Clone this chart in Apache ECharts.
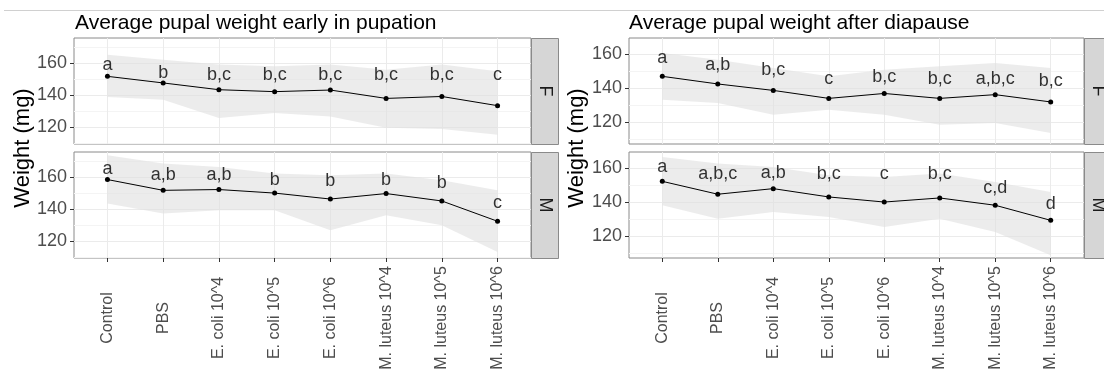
<!DOCTYPE html>
<html>
<head>
<meta charset="utf-8">
<script src="https://cdn.jsdelivr.net/npm/echarts@6/dist/echarts.min.js"></script>
<style>
html, body { margin: 0; padding: 0; background: #fff; }
#main { width: 1104px; height: 376px; }
</style>
</head>
<body>
<div id="main"></div>
<script>
var categories = ['Control', 'PBS', 'E. coli 10^4', 'E. coli 10^5', 'E. coli 10^6',
    'M. luteus 10^4', 'M. luteus 10^5', 'M. luteus 10^6'];
var yTicks = [120, 140, 160];
var yMinorTicks = [110, 130, 150, 170];

// early in pupation, females
var earlyF = [151.7, 147.6, 143.4, 142.2, 143.2, 138.0, 139.2, 133.5];
var earlyFHigh = [165.1, 162.0, 159.0, 157.9, 159.0, 155.8, 159.0, 154.8];
var earlyFLow = [138.9, 137.2, 125.8, 129.0, 126.8, 119.8, 119.0, 115.5];
var earlyFLetters = ['a', 'b', 'b,c', 'b,c', 'b,c', 'b,c', 'b,c', 'c'];
var earlyFLetterY = [158.5, 153.8, 152.3, 152.3, 152.3, 152.3, 152.3, 152.3];

// early in pupation, males
var earlyM = [158.4, 151.7, 152.2, 150.0, 146.3, 149.7, 145.1, 132.5];
var earlyMHigh = [173.5, 168.3, 166.2, 162.1, 161.0, 162.1, 157.9, 151.7];
var earlyMLow = [143.5, 137.3, 139.3, 139.3, 126.9, 136.2, 130.0, 113.4];
var earlyMLetters = ['a', 'a,b', 'a,b', 'b', 'b', 'b', 'b', 'c'];
var earlyMLetterY = [164.8, 161.2, 161.2, 157.9, 157.5, 157.9, 156.5, 144.1];

// after diapause, females
var diapF = [147.1, 142.6, 138.8, 134.1, 137.0, 134.1, 136.3, 132.0];
var diapFHigh = [160.9, 156.9, 152.0, 147.1, 151.0, 153.0, 155.0, 152.0];
var diapFLow = [133.3, 131.4, 124.5, 127.4, 124.5, 118.6, 119.6, 113.7];
var diapFLetters = ['a', 'a,b', 'b,c', 'c', 'b,c', 'b,c', 'a,b,c', 'b,c'];
var diapFLetterY = [158.1, 153.5, 150.6, 145.7, 146.7, 145.7, 145.7, 144.3];

// after diapause, males
var diapM = [152.4, 144.8, 148.1, 143.2, 140.2, 142.6, 138.3, 129.4];
var diapMHigh = [166.8, 162.9, 160.9, 156.0, 155.0, 157.0, 152.0, 146.1];
var diapMLow = [138.3, 130.4, 134.3, 131.4, 125.5, 130.4, 122.5, 108.8];
var diapMLetters = ['a', 'a,b,c', 'a,b', 'b,c', 'c', 'b,c', 'c,d', 'd'];
var diapMLetterY = [160.9, 156.9, 157.5, 156.5, 156.9, 156.9, 148.3, 138.9];

var font = 'Liberation Sans, Arial, Helvetica, sans-serif';
var bandColor = 'rgba(225,225,225,0.62)';

var panels = [
    {left: 74, top: 38, width: 457, height: 106, yMin: 109.7, yMax: 175.5, bottom: false,
        mean: earlyF, high: earlyFHigh, low: earlyFLow, letters: earlyFLetters, letterY: earlyFLetterY},
    {left: 74, top: 152, width: 457, height: 106, yMin: 109.7, yMax: 175.5, bottom: true,
        mean: earlyM, high: earlyMHigh, low: earlyMLow, letters: earlyMLetters, letterY: earlyMLetterY},
    {left: 629, top: 38, width: 455, height: 106, yMin: 107.2, yMax: 169.7, bottom: false,
        mean: diapF, high: diapFHigh, low: diapFLow, letters: diapFLetters, letterY: diapFLetterY},
    {left: 629, top: 152, width: 455, height: 106, yMin: 107.2, yMax: 169.7, bottom: true,
        mean: diapM, high: diapMHigh, low: diapMLow, letters: diapMLetters, letterY: diapMLetterY}
];

var xIdx = categories.map(function (c, i) { return i; });

var grids = [], xAxes = [], yAxes = [], series = [];

function bandSeries(i, high, low) {
    return {
        type: 'custom',
        xAxisIndex: i,
        yAxisIndex: i,
        silent: true,
        z: 1,
        data: [[0, low[0]]],
        renderItem: function (params, api) {
            var pts = [];
            for (var k = 0; k < high.length; k++) pts.push(api.coord([k, high[k]]));
            for (var j = low.length - 1; j >= 0; j--) pts.push(api.coord([j, low[j]]));
            return {type: 'polygon', shape: {points: pts}, style: {fill: bandColor}};
        }
    };
}

panels.forEach(function (p, i) {
    grids.push({
        left: p.left, top: p.top, width: p.width, height: p.height,
        show: true, borderColor: '#8a8a8a', borderWidth: 1, backgroundColor: '#fff',
        outerBoundsMode: 'none'
    });
    xAxes.push({
        gridIndex: i, type: 'value', min: -0.6, max: 7.6,
        axisLine: {show: false, onZero: false},
        axisTick: {show: p.bottom, length: 4, customValues: xIdx, lineStyle: {color: '#333'}},
        axisLabel: {
            show: p.bottom, customValues: xIdx, rotate: 90, align: 'center', verticalAlign: 'middle',
            margin: 60, fontSize: 16, color: '#4D4D4D', fontFamily: font,
            formatter: function (v) { return categories[Math.round(v)]; }
        },
        splitLine: {show: true, lineStyle: {color: '#EBEBEB', width: 1}}
    });
    yAxes.push({
        gridIndex: i, type: 'value', min: p.yMin, max: p.yMax, position: 'left',
        axisLine: {show: false, onZero: false},
        axisTick: {show: true, length: 4, customValues: yTicks, lineStyle: {color: '#333'}},
        axisLabel: {customValues: yTicks, margin: 7, fontSize: 18, color: '#4D4D4D', fontFamily: font},
        splitLine: {show: true, lineStyle: {color: '#EBEBEB', width: 1}}
    });
    series.push(bandSeries(i, p.high, p.low));
    series.push({
        type: 'line', xAxisIndex: i, yAxisIndex: i, z: 3,
        data: p.mean.map(function (v, k) { return [k, v]; }),
        symbol: 'circle', symbolSize: 5, showSymbol: true,
        lineStyle: {color: '#000', width: 1},
        itemStyle: {color: '#000'}
    });
    series.push({
        type: 'scatter', xAxisIndex: i, yAxisIndex: i, z: 4,
        data: p.letterY.map(function (v, k) { return [k, v, p.letters[k]]; }),
        symbolSize: 1, itemStyle: {color: 'transparent'},
        label: {
            show: true, position: 'inside', color: '#000', fontSize: 18, fontFamily: font,
            formatter: function (d) { return d.data[2]; }
        }
    });
});

// minor gridlines on a second, hidden y axis per panel
panels.forEach(function (p, i) {
    yAxes.push({
        gridIndex: i, type: 'value', min: p.yMin, max: p.yMax, position: 'left',
        axisLine: {show: false, onZero: false},
        axisTick: {show: false, customValues: yMinorTicks},
        axisLabel: {show: false, customValues: yMinorTicks},
        splitLine: {show: true, lineStyle: {color: '#F4F4F4', width: 1}}
    });
});

function strip(x, y, h, txt) {
    return [{
        type: 'rect', left: x, top: y, z: 50,
        shape: {width: 27, height: h},
        style: {fill: '#D6D6D6', stroke: '#8a8a8a', lineWidth: 1}
    }, {
        type: 'text', x: x + 13.5, y: y + h / 2, rotation: -Math.PI / 2, z: 51,
        style: {text: txt, fill: '#1A1A1A', font: '18px ' + font, align: 'center', verticalAlign: 'middle'}
    }];
}

var graphics = [
    {type: 'line', z: 50, shape: {x1: 4, y1: 10.5, x2: 1104, y2: 10.5}, style: {stroke: '#d0d0d0', lineWidth: 1}},
    {type: 'text', x: 75, y: 23, z: 50,
        style: {text: 'Average pupal weight early in pupation', fill: '#000', font: '21px ' + font, verticalAlign: 'middle'}},
    {type: 'text', x: 629, y: 23, z: 50,
        style: {text: 'Average pupal weight after diapause', fill: '#000', font: '21px ' + font, verticalAlign: 'middle'}},
    {type: 'text', x: 23, y: 148, rotation: Math.PI / 2, z: 50,
        style: {text: 'Weight (mg)', fill: '#000', font: '22px ' + font, align: 'center', verticalAlign: 'middle'}},
    {type: 'text', x: 577, y: 148, rotation: Math.PI / 2, z: 50,
        style: {text: 'Weight (mg)', fill: '#000', font: '22px ' + font, align: 'center', verticalAlign: 'middle'}}
].concat(strip(531, 38, 106, 'F'), strip(531, 152, 106, 'M'),
    strip(1084, 38, 106, 'F'), strip(1084, 152, 106, 'M'));

var option = {
    animation: false,
    backgroundColor: '#fff',
    grid: grids,
    xAxis: xAxes,
    yAxis: yAxes,
    series: series,
    graphic: graphics
};

var chart = echarts.init(document.getElementById('main'));
chart.setOption(option);
</script>
</body>
</html>
